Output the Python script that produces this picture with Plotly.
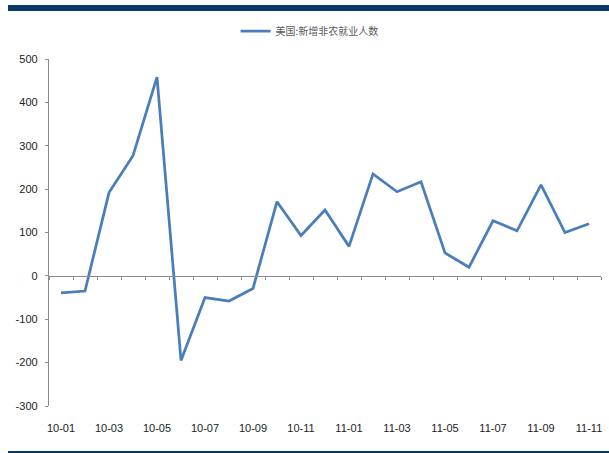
import plotly.graph_objects as go

# Monthly change in US nonfarm payrolls (thousands)
months = ["10-01", "10-02", "10-03", "10-04", "10-05", "10-06", "10-07", "10-08",
          "10-09", "10-10", "10-11", "10-12", "11-01", "11-02", "11-03", "11-04",
          "11-05", "11-06", "11-07", "11-08", "11-09", "11-10", "11-11"]
payrolls = [-39, -35, 192, 277, 458, -195, -50, -58, -29, 171, 93, 152, 68,
            235, 194, 217, 53, 20, 127, 104, 210, 100, 120]
series_name = "美国:新增非农就业人数"
label_months = months[::2]
y_ticks = list(range(-300, 501, 100))
y_tick_text = [str(v) for v in y_ticks]  # plain hyphen for negatives

NAVY = "#0b3a68"
AXIS_GREY = "#8c8c8c"
LINE_BLUE = "#4a7ebb"
num_font = dict(family="Liberation Sans Narrow, Arial Narrow, sans-serif", size=11, color="#222222")

fig = go.Figure()

fig.add_trace(go.Scatter(
    x=months, y=payrolls, name=series_name, mode="lines",
    line=dict(color=LINE_BLUE, width=2.75), xaxis="x", yaxis="y",
))
# helper trace so the category axis sitting on the zero line gets its ticks
fig.add_trace(go.Scatter(
    x=months, y=payrolls, mode="lines", line=dict(width=0, color="rgba(0,0,0,0)"),
    showlegend=False, hoverinfo="skip", xaxis="x2", yaxis="y",
))

fig.update_layout(
    width=609, height=453,
    margin=dict(l=49, r=8, t=59, b=47),
    paper_bgcolor="white", plot_bgcolor="white",
    showlegend=True,
    legend=dict(
        orientation="h", x=0.472, xanchor="center", y=1.08, yanchor="middle",
        font=dict(family="Noto Sans CJK SC", size=10, color="#595959"),
        bgcolor="rgba(0,0,0,0)",
    ),
    xaxis=dict(
        type="category", categoryorder="array", categoryarray=months,
        range=[-0.5, len(months) - 0.5],
        tickmode="array", tickvals=label_months, ticktext=label_months,
        showline=False, showgrid=False, zeroline=False, ticks="",
        ticklabelstandoff=14, tickfont=num_font,
    ),
    xaxis2=dict(
        type="category", categoryorder="array", categoryarray=months,
        range=[-0.5, len(months) - 0.5], matches="x",
        overlaying="x", anchor="free", position=(0 - y_ticks[0]) / (y_ticks[-1] - y_ticks[0]),
        showline=True, linecolor=AXIS_GREY, linewidth=1.3,
        ticks="outside", tickson="boundaries", ticklen=3, tickcolor=AXIS_GREY,
        showticklabels=False, showgrid=False, zeroline=False,
    ),
    yaxis=dict(
        range=[y_ticks[0], y_ticks[-1]], tickmode="array", tickvals=y_ticks, ticktext=y_tick_text,
        showline=True, linecolor=AXIS_GREY, linewidth=1.3,
        ticks="outside", ticklen=3, tickcolor=AXIS_GREY,
        showgrid=False, zeroline=False, tickfont=num_font, ticklabelstandoff=5,
    ),
    shapes=[
        dict(type="rect", xref="paper", yref="paper", x0=-41 / 552, x1=1 + 8 / 552,
             y0=1 + 48 / 347, y1=1 + 54 / 347, fillcolor=NAVY, line=dict(width=0), layer="above"),
        dict(type="rect", xref="paper", yref="paper", x0=-41 / 552, x1=1 + 8 / 552,
             y0=-47 / 347, y1=-45 / 347, fillcolor=NAVY, line=dict(width=0), layer="above"),
    ],
)

fig.write_html("out.html")
